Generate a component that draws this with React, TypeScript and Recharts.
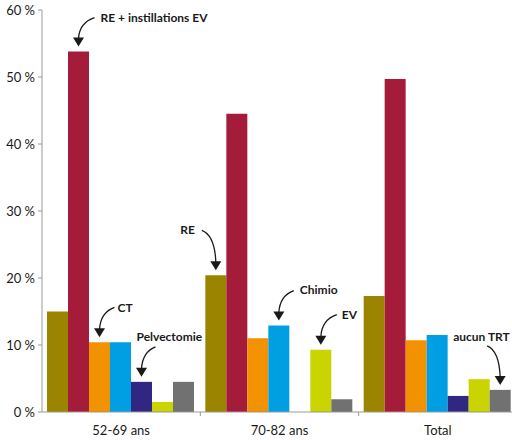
import React from "react";
import { BarChart, Bar, XAxis, YAxis, LabelList } from "recharts";

const categories = ["52-69 ans", "70-82 ans", "Total"];
const re = [15.0, 20.4, 17.3];
const reInstillations = [53.8, 44.5, 49.7];
const ct = [10.4, 11.0, 10.7];
const chimio = [10.4, 12.9, 11.5];
const pelvectomie = [4.5, 0, 2.4];
const ev = [1.5, 9.3, 4.9];
const aucunTrt = [4.5, 1.9, 3.3];
const yTicks = [0, 10, 20, 30, 40, 50, 60];

const data = categories.map((name, i) => ({
  name,
  re: re[i],
  reInst: reInstillations[i],
  ct: ct[i],
  chimio: chimio[i],
  pelv: pelvectomie[i],
  ev: ev[i],
  aucun: aucunTrt[i],
}));

const W = 520;
const H = 440;
const M = { top: 10, right: 3, left: 0, bottom: 0 };
const Y_W = 42;
const BAND = (W - M.left - M.right - Y_W) / categories.length;
const FONT = "Lato, 'Open Sans', sans-serif";
const INK = "#1a1a1a";

// annotation: text + curved arrow pointing at one bar
type Note = {
  index: number;
  text: string;
  sx: number; // arrow start, relative to tip
  sy: number;
  tx: number; // text position, relative to tip
  ty: number;
  anchor?: "start" | "end";
};

function makeNote(note: Note) {
  return (props: any) => {
    if (props.index !== note.index) return null;
    const cx = Number(props.x) + Number(props.width) / 2;
    const tipY = Number(props.y) - 5;
    const baseY = tipY - 9;
    const sx = cx + note.sx;
    const sy = tipY + note.sy;
    return (
      <g>
        <path
          d={`M${sx},${sy} Q${cx + (note.sx > 0 ? 1 : -1)},${sy + 5} ${cx},${baseY + 1}`}
          fill="none"
          stroke={INK}
          strokeWidth={1.3}
        />
        <polygon points={`${cx - 5.5},${baseY} ${cx + 5.5},${baseY} ${cx},${tipY}`} fill={INK} />
        <text
          x={cx + note.tx}
          y={tipY + note.ty}
          dy="0.35em"
          textAnchor={note.anchor || "start"}
          fontFamily={FONT}
          fontWeight="bold"
          fontSize={12}
          fill={INK}
        >
          {note.text}
        </text>
      </g>
    );
  };
}

const XTick = (props: any) => {
  const { x, y, payload } = props;
  return (
    <g>
      <line x1={x + BAND / 2} x2={x + BAND / 2} y1={y} y2={y + 4} stroke="#999" />
      <text x={x} y={y + 18} dy="0.35em" textAnchor="middle" fontFamily={FONT} fontSize={13} fill={INK}>
        {payload.value}
      </text>
    </g>
  );
};

export default function App() {
  return (
    <div
      style={{
        position: "fixed",
        top: 0,
        left: 0,
        width: 512,
        height: 440,
        overflow: "hidden",
        background: "#fff",
        fontFamily: FONT,
      }}
    >
      <BarChart
        width={W}
        height={H}
        data={data}
        margin={M}
        barCategoryGap={5}
        barGap={0}
        style={{ overflow: "visible" }}
      >
        <XAxis
          dataKey="name"
          height={28}
          tickLine={false}
          tickSize={0}
          tickMargin={0}
          stroke="#999"
          tick={<XTick />}
          interval={0}
        />
        <YAxis
          width={Y_W}
          domain={[0, 60]}
          ticks={yTicks}
          tickFormatter={(v: number) => `${v} %`}
          tickSize={4}
          tickMargin={3}
          stroke="#999"
          tick={{ fill: INK, fontSize: 13, fontFamily: FONT }}
        />
        <Bar dataKey="re" fill="#9b8500" isAnimationActive={false}>
          <LabelList content={makeNote({ index: 1, text: "RE", sx: -14, sy: -40, tx: -21, ty: -41, anchor: "end" })} />
        </Bar>
        <Bar dataKey="reInst" fill="#a51b3a" isAnimationActive={false}>
          <LabelList content={makeNote({ index: 0, text: "RE + instillations EV", sx: 16, sy: -29, tx: 22, ty: -29 })} />
        </Bar>
        <Bar dataKey="ct" fill="#f39200" isAnimationActive={false}>
          <LabelList content={makeNote({ index: 0, text: "CT", sx: 15, sy: -30, tx: 18, ty: -30 })} />
        </Bar>
        <Bar dataKey="chimio" fill="#009fe3" isAnimationActive={false}>
          <LabelList content={makeNote({ index: 1, text: "Chimio", sx: 15, sy: -30, tx: 21, ty: -31 })} />
        </Bar>
        <Bar dataKey="pelv" fill="#312783" isAnimationActive={false}>
          <LabelList content={makeNote({ index: 0, text: "Pelvectomie", sx: 14, sy: -30, tx: -5, ty: -40 })} />
        </Bar>
        <Bar dataKey="ev" fill="#cad400" isAnimationActive={false}>
          <LabelList content={makeNote({ index: 1, text: "EV", sx: 16, sy: -30, tx: 21, ty: -30 })} />
        </Bar>
        <Bar dataKey="aucun" fill="#717171" isAnimationActive={false}>
          <LabelList content={makeNote({ index: 2, text: "aucun TRT", sx: -13, sy: -39, tx: -47, ty: -48 })} />
        </Bar>
      </BarChart>
    </div>
  );
}
